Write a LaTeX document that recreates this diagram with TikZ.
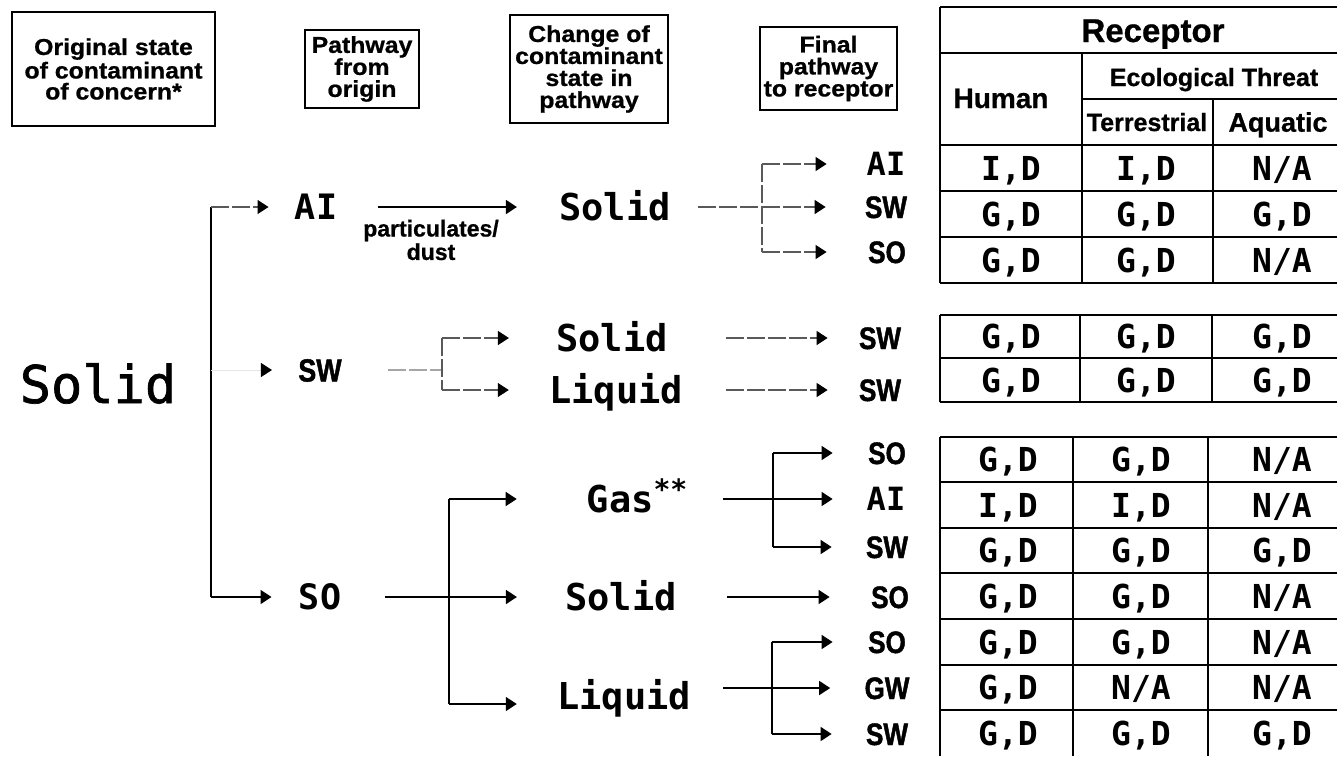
\documentclass[tikz,border=0pt]{standalone}
\usepackage{fontspec}
\usetikzlibrary{arrows.meta}
\newfontfamily\monof{DejaVu Sans Mono}
\newfontfamily\monobig{DejaVu Sans Mono}[FakeBold=1.3]
\newfontfamily\sansf{Liberation Sans Bold}[FakeBold=0.8]
\newfontfamily\sansw{Liberation Sans Bold}[FakeStretch=1.08, FakeBold=0.8]
\newfontfamily\sansn{Liberation Sans Bold}[FakeStretch=0.84, FakeBold=1.4]
\newcommand\trow[8]{%
  \node[cell] (#1a) at (#3,#2) {#6};
  \node[cell] (#1b) at (#4,#2) {#7};
  \node[cell] (#1c) at (#5,#2) {#8};}
\begin{document}
\begin{tikzpicture}[x=0.5pt,y=-0.5pt,
  bigsolid/.style={font=\monobig\fontsize{26}{26}\selectfont, inner sep=0pt, text height=19pt, text depth=0pt},
  lvl/.style={font=\monof\bfseries\fontsize{18.5}{18.5}\selectfont, inner sep=0pt, text height=13.5pt, text depth=0pt},
  org/.style={font=\monof\bfseries\fontsize{17.5}{17.5}\selectfont, inner sep=0pt, text height=12.8pt, text depth=0pt},
  finm/.style={font=\monof\bfseries\fontsize{16}{16}\selectfont, inner sep=0pt, text height=11.7pt, text depth=0pt, minimum width=20pt},
  fins/.style={font=\sansn\fontsize{15.5}{15.5}\selectfont, inner sep=0pt, text height=11pt, text depth=0pt, minimum width=20pt},
  orgs/.style={font=\sansn\fontsize{16}{16}\selectfont, inner sep=0pt, text height=11.5pt, text depth=0pt},
  cell/.style={font=\monof\bfseries\fontsize{16.5}{16.5}\selectfont, inner sep=0pt, text height=12pt, text depth=0pt},
  hbox/.style={draw, line width=0.6pt, align=center, inner sep=0pt, font=\sansw\fontsize{11.5}{11}\selectfont},
  hcell/.style={font=\sansf\fontsize{12.5}{12.5}\selectfont, inner sep=0pt, text height=9pt, text depth=0pt},
  note/.style={align=center, font=\sansf\fontsize{11.5}{9.5}\selectfont, inner sep=0pt},
  conn/.style={draw=black, line width=0.8pt},
  faint/.style={draw=black!65, line width=0.6pt, dash pattern=on 9pt off 1.5pt},
  ghost/.style={draw=black!10, line width=0.5pt},
  arr/.style={-{Triangle[length=5.5pt,width=7pt,color=black]}},
  tline/.style={line width=0.8pt},
  vline/.style={line width=1.1pt}]
\useasboundingbox (0,0) rectangle (1337,756);

% ---------- header boxes ----------
\node[hbox, minimum width=101.5pt, minimum height=57pt, font=\sansw\fontsize{11.5}{10.5}\selectfont] (h1) at (113.5,69) {Original state\\of contaminant\\of concern*};
\node[hbox, minimum width=57pt, minimum height=39pt] (h2) at (362,69) {Pathway\\from\\origin};
\node[hbox, minimum width=79pt, minimum height=54pt] (h3) at (589,69) {Change of\\contaminant\\state in\\pathway};
\node[hbox, minimum width=68.5pt, minimum height=41.5pt] (h4) at (828.5,68.5) {Final\\pathway\\to receptor};

% ---------- receptor table ----------
\draw[tline] (940,7) -- (1337,7);
\draw[tline] (940,53) -- (1337,53);
\draw[tline] (1082,99) -- (1337,99);
\draw[tline] (940,145) -- (1337,145);
\draw[tline] (940,191) -- (1337,191);
\draw[tline] (940,237) -- (1337,237);
\draw[tline] (940,283) -- (1337,283);
\draw[vline] (940,7) -- (940,283);
\draw[vline] (1082,53) -- (1082,283);
\draw[vline] (1213,99) -- (1213,283);
\node[hcell, font=\sansf\fontsize{16.5}{16.5}\selectfont, text height=12pt] (rec) at (1153,30) {Receptor};
\node[hcell, font=\sansf\fontsize{14}{14}\selectfont, text height=10pt] (hum) at (1001,98) {Human};
\node[hcell] (eco) at (1214,77) {Ecological Threat};
\node[hcell] (ter) at (1147,122) {Terrestrial};
\node[hcell, font=\sansf\fontsize{13.5}{13.5}\selectfont, text height=9.7pt] (aqu) at (1278,122) {Aquatic};
\trow{ta}{168}{1011}{1146}{1282}{I,D}{I,D}{N/A}
\trow{tb}{214}{1011}{1146}{1282}{G,D}{G,D}{G,D}
\trow{tc}{260}{1011}{1146}{1282}{G,D}{G,D}{N/A}

% middle table
\draw[tline] (940,315) -- (1337,315);
\draw[tline] (940,358) -- (1337,358);
\draw[tline] (940,402) -- (1337,402);
\draw[vline] (940,315) -- (940,402);
\draw[vline] (1080,315) -- (1080,402);
\draw[vline] (1212,315) -- (1212,402);
\trow{ma}{336}{1011}{1146}{1282}{G,D}{G,D}{G,D}
\trow{mb}{380}{1011}{1146}{1282}{G,D}{G,D}{G,D}

% bottom table
\foreach \yy in {437,482,528,573,619,665,710} {\draw[tline] (940,\yy) -- (1337,\yy);}
\draw[vline] (940,437) -- (940,756);
\draw[vline] (1073,437) -- (1073,756);
\draw[vline] (1208,437) -- (1208,756);
\trow{ba}{459}{1008}{1141}{1282}{G,D}{G,D}{N/A}
\trow{bb}{505}{1008}{1141}{1282}{I,D}{I,D}{N/A}
\trow{bc}{550}{1008}{1141}{1282}{G,D}{G,D}{G,D}
\trow{bd}{596}{1008}{1141}{1282}{G,D}{G,D}{N/A}
\trow{be}{642}{1008}{1141}{1282}{G,D}{G,D}{N/A}
\trow{bf}{687}{1008}{1141}{1282}{G,D}{N/A}{N/A}
\trow{bg}{733}{1008}{1141}{1282}{G,D}{G,D}{G,D}

% ---------- flow ----------
\node[bigsolid] (solid0) at (98,384) {Solid};
\node[org] (ai1) at (316,207) {AI};
\node[orgs] (sw1) at (320,370) {SW};
\node[org] (so1) at (320,597) {SO};
\coordinate (vt) at (211,207);
\coordinate (vsw) at (211,370);
\coordinate (vb) at (211,597);
\draw[conn] (vt) -- (vb);
\draw[faint,arr,shorten >=13pt] (vt) -- (ai1.west);
\draw[ghost,arr,shorten >=13pt] (vsw) -- (sw1.west);
\draw[conn,arr,shorten >=13.5pt] (vb) -- (so1.west);

% top group
\node[lvl] (s2a) at (615,207) {Solid};
\draw[conn,arr,shorten <=20.5pt,shorten >=21pt] (ai1) -- (s2a);
\node[note] (pd) at (431,240) {particulates/\\dust};
\coordinate (ba) at (762,207);
\coordinate (bat) at (762,164);
\coordinate (bab) at (762,252);
\draw[faint,shorten <=13.5pt] (s2a) -- (ba);
\draw[faint] (bat) -- (bab);
\node[finm] (f1) at (886,164) {AI};
\node[fins] (f2) at (886,207) {SW};
\node[fins] (f3) at (887,252) {SO};
\draw[faint,arr,shorten >=19.5pt] (bat) -- (f1.west);
\draw[faint,arr,shorten >=19.5pt] (ba) -- (f2.west);
\draw[faint,arr,shorten >=20pt] (bab) -- (f3.west);

% middle group
\node[lvl] (s2b) at (612,338) {Solid};
\node[lvl] (l2b) at (616,390) {Liquid};
\coordinate (bb) at (442,370);
\coordinate (bbt) at (442,338);
\coordinate (bbb) at (442,390);
\draw[faint,draw=black!35,shorten <=23pt] (sw1) -- (bb);
\draw[faint] (bbt) -- (bbb);
\draw[faint,arr,shorten >=23.5pt] (bbt) -- (s2b.west);
\draw[faint,arr,shorten >=20pt] (bbb) -- (l2b.west);
\node[fins] (m1) at (880,338) {SW};
\node[fins] (m2) at (880,390) {SW};
\draw[faint,arr,shorten <=29pt,shorten >=15.5pt] (s2b) -- (m1);
\draw[faint,arr,shorten <=21.5pt,shorten >=15.5pt] (l2b) -- (m2);

% bottom group
\node[lvl] (gas) at (637,499) {Gas\raisebox{6.5pt}{\fontsize{14}{14}\selectfont **}};
\node[lvl] (s2c) at (621,597) {Solid};
\node[lvl] (l2c) at (624,696) {Liquid};
\coordinate (bct) at (449,499);
\coordinate (bcb) at (449,704);
\draw[conn,arr,shorten <=22pt,shorten >=24pt] (so1) -- (s2c);
\draw[conn] (bct) -- (bcb);
\draw[conn,arr,shorten >=34.8pt] (bct) -- (gas.west);
\draw[conn,arr,shorten >=20pt] (bcb) -- ([yshift=-4pt]l2c.west);

\coordinate (bd) at (773,499);
\coordinate (bdt) at (773,453);
\coordinate (bdb) at (773,547);
\draw[conn,shorten <=17.8pt] (gas) -- (bd);
\draw[conn] (bdt) -- (bdb);
\node[fins] (g1) at (887,453) {SO};
\node[finm] (g2) at (886,499) {AI};
\node[fins] (g3) at (887,547) {SW};
\draw[conn,arr,shorten >=17pt] (bdt) -- (g1.west);
\draw[conn,arr,shorten >=16.5pt] (bd) -- (g2.west);
\draw[conn,arr,shorten >=17pt] (bdb) -- (g3.west);

\node[fins] (g4) at (890,597) {SO};
\draw[conn,arr,shorten <=25pt,shorten >=20pt] (s2c) -- (g4);

\coordinate (be) at (772,688);
\coordinate (bet) at (772,642);
\coordinate (beb) at (772,734);
\draw[conn,shorten <=16pt] ([yshift=4pt]l2c.east) -- (be);
\draw[conn] (bet) -- (beb);
\node[fins] (g5) at (887,642) {SO};
\node[fins] (g6) at (887,688) {GW};
\node[fins] (g7) at (887,734) {SW};
\draw[conn,arr,shorten >=17pt] (bet) -- (g5.west);
\draw[conn,arr,shorten >=17pt] (be) -- (g6.west);
\draw[conn,arr,shorten >=17pt] (beb) -- (g7.west);
\end{tikzpicture}
\end{document}
